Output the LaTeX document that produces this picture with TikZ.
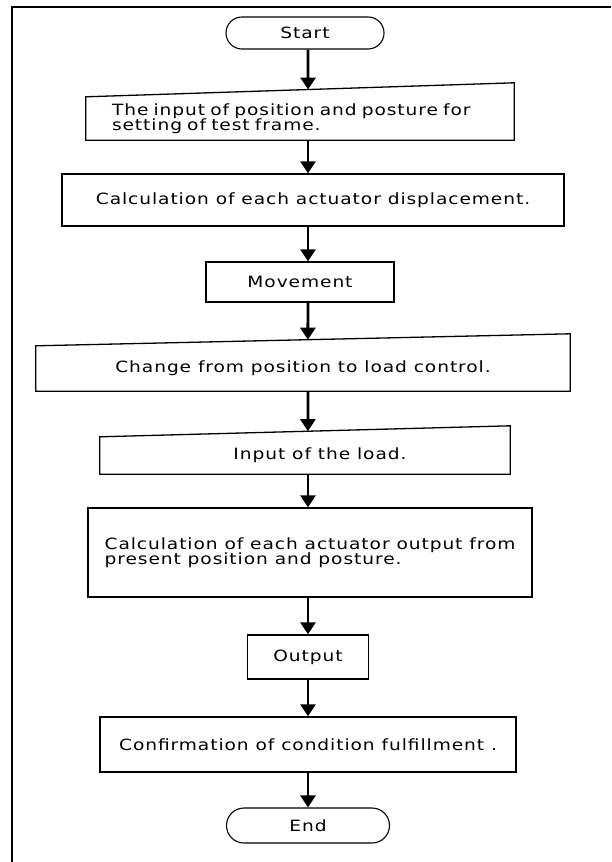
\documentclass[tikz,border=0pt]{standalone}
\usepackage{fontspec}
\setmainfont{DejaVu Sans}[FakeStretch=1.2,LetterSpace=6]
\usetikzlibrary{arrows.meta,shapes.misc,calc}
\begin{document}
\begin{tikzpicture}[x=1pt,y=-1pt,
  txt/.style={font=\fontsize{15.5}{15.5}\selectfont},
  box/.style={draw,line width=1.3pt,rectangle,inner sep=0pt,txt},
  mbox/.style={rectangle,inner sep=0pt,txt},
  term/.style={draw,line width=1.1pt,rounded rectangle,inner sep=0pt,txt},
  flow/.style={line width=2.8pt,-{Triangle[width=15pt,length=12pt]}},
  shp/.style={line width=1.3pt}
]
\useasboundingbox (0,0) rectangle (611,862);
\draw[line width=2.5pt] (12,862) -- (12,7) -- (611,7);
\coordinate (ax) at (308,0);

\node[term,minimum width=158pt,minimum height=32pt] (start) at (305,33) {Start};

\node[mbox,minimum width=428pt,minimum height=43pt,text width=420pt,align=left] (b1) at (300,118.5) {\hspace*{22pt}The input of position and posture for\\\hspace*{22pt}setting of test frame.};
\coordinate (b1tr) at ($(b1.north east)+(0,-14)$);
\draw[shp] (b1.south west) -- (b1.south east) -- (b1tr) -- (b1.north west) -- cycle;
\coordinate (t1) at ($(b1.north west)!0.519!(b1tr)$);

\node[box,minimum width=502pt,minimum height=52pt] (b2) at (313,200) {Calculation of each actuator displacement.};

\node[box,minimum width=188pt,minimum height=40pt] (b3) at (300,282) {Movement};

\node[mbox,minimum width=534pt,minimum height=45pt] (b4) at (303,368.5) {Change from position to load control.};
\coordinate (b4tr) at ($(b4.north east)+(0,-12)$);
\draw[shp] (b4.south west) -- (b4.south east) -- (b4tr) -- (b4.north west) -- cycle;
\coordinate (t4) at ($(b4.north west)!0.509!(b4tr)$);

\node[mbox,minimum width=410pt,minimum height=37pt] (b5) at (305,455.5) {\hspace*{30pt}Input of the load.};
\coordinate (b5tr) at ($(b5.north east)+(0,-11)$);
\draw[shp] (b5.south west) -- (b5.south east) -- (b5tr) -- (b5.north west) -- cycle;
\coordinate (t5) at ($(b5.north west)!0.507!(b5tr)$);

\node[box,minimum width=444pt,minimum height=89pt,align=left] (b6) at (310,552.5) {Calculation of each actuator output from\\present position and posture.};

\node[box,minimum width=121pt,minimum height=44pt] (b7) at (308,657) {Output};

\node[box,minimum width=416pt,minimum height=55pt] (b8) at (308,744.5) {Confirmation of condition fulfillment .};

\node[term,minimum width=163pt,minimum height=35pt] (end) at (308,825.5) {End};

\draw[flow] (start.south -| ax) -- (t1);
\draw[flow] (b1.south -| ax) -- (b2.north -| ax);
\draw[flow] (b2.south -| ax) -- (b3.north -| ax);
\draw[flow] (b3.south -| ax) -- (t4);
\draw[flow] (b4.south -| ax) -- (t5);
\draw[flow] (b5.south -| ax) -- (b6.north -| ax);
\draw[flow] (b6.south -| ax) -- (b7.north -| ax);
\draw[flow] (b7.south -| ax) -- (b8.north -| ax);
\draw[flow] (b8.south -| ax) -- (end.north -| ax);
\end{tikzpicture}
\end{document}
